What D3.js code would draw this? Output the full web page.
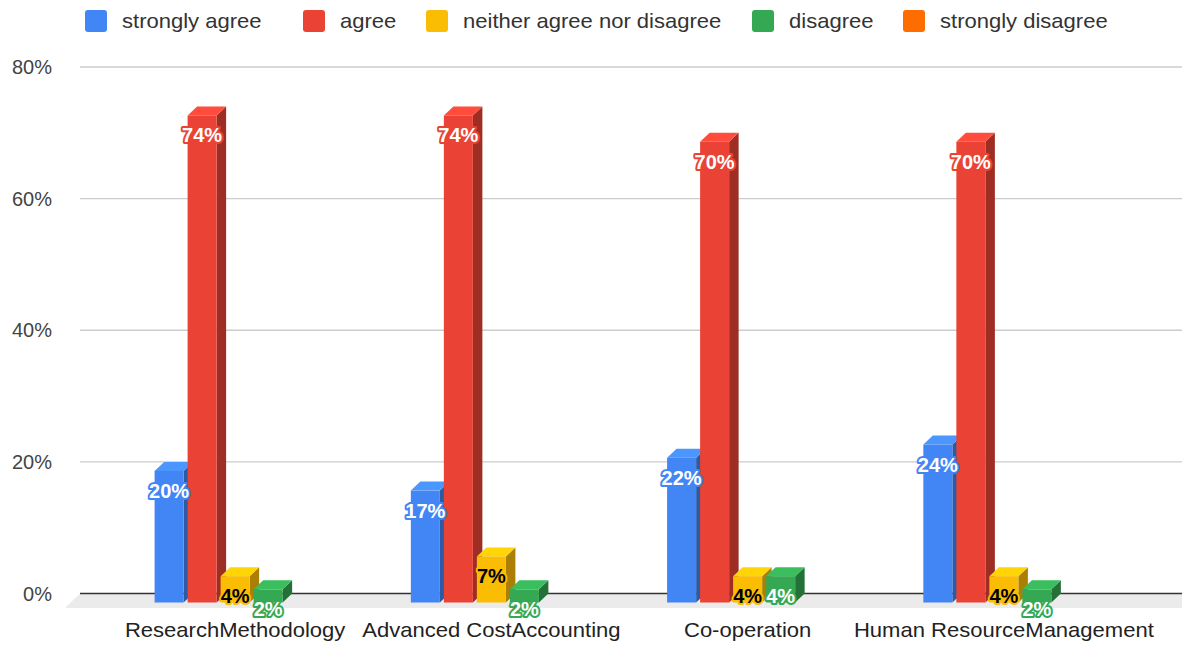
<!DOCTYPE html>
<html><head><meta charset="utf-8">
<script src="https://cdn.jsdelivr.net/npm/d3@7"></script>
<style>body{margin:0;background:#fff}svg{display:block;font-family:Arial,"Liberation Sans",sans-serif}</style>
</head><body>
<svg id="c" width="1182" height="647"></svg>
<script>
const categories = ["ResearchMethodology","Advanced CostAccounting","Co-operation","Human ResourceManagement"];
const seriesNames = ["strongly agree","agree","neither agree nor disagree","disagree","strongly disagree"];
const seriesColors = ["#4285F4","#EA4335","#FBBC04","#34A853","#FF6D01"];
const stronglyAgree = [20,17,22,24];
const agree = [74,74,70,70];
const neither = [4,7,4,4];
const disagree = [2,2,4,2];
const stronglyDisagree = [0,0,0,0];
const yTicks = [0,20,40,60,80];

const values = [stronglyAgree, agree, neither, disagree, stronglyDisagree];
const svg = d3.select("#c");
const DX = 9.5, DY = 9;
const SX = 1.075;
const y = d3.scaleLinear().domain([0,80]).range([593.5,67]);
const x0 = d3.scaleBand().domain(categories).range([107,1132]).paddingInner(0.356).paddingOuter(0.178);
const x1 = d3.scaleBand().domain(seriesNames).range([0,x0.bandwidth()]).paddingInner(0.121).paddingOuter(0.06);

// gridlines
svg.append("g").selectAll("line").data(yTicks.filter(d=>d>0)).join("line")
  .attr("x1",80).attr("x2",1182).attr("y1",d=>y(d)).attr("y2",d=>y(d))
  .attr("stroke","#cccccc").attr("stroke-width",1.3);
// floor
svg.append("path").attr("d",`M80,${y(0)}L1182,${y(0)}L1182,${y(0)+14.5}L65,${y(0)+14.5}Z`).attr("fill","#ebebeb");
svg.append("line").attr("x1",80).attr("x2",1182).attr("y1",y(0)).attr("y2",y(0)).attr("stroke","#333").attr("stroke-width",1.3);
// y labels
svg.append("g").selectAll("text").data(yTicks).join("text")
  .attr("x",52).attr("y",d=>y(d)).attr("dy","0.35em").attr("text-anchor","end")
  .attr("font-size",20).attr("fill","#444").text(d=>d+"%");
// category labels
svg.append("g").selectAll("text").data(categories).join("text")
  .attr("transform",d=>`translate(${x0(d)+x0.bandwidth()/2},630) scale(${SX},1)`)
  .attr("dy","0.35em").attr("text-anchor","middle")
  .attr("font-size",20.5).attr("fill","#222").text(d=>d);

// bars
const bars = [];
categories.forEach((c,ci)=>{
  seriesNames.forEach((s,si)=>{
    bars.push({c, s, si, v: values[si][ci]});
  });
});
const gb = svg.append("g");
bars.forEach(b=>{
  if (b.v <= 0) return;
  const col = d3.color(seriesColors[b.si]);
  const xa = x0(b.c) + x1(b.s), xb = xa + x1.bandwidth();
  const yt = y(b.v) + DY, yb = y(0) + DY;
  const g = gb.append("g");
  g.append("path").attr("d",`M${xb},${yt}L${xb+DX},${yt-DY}L${xb+DX},${yb-DY}L${xb},${yb}Z`).attr("fill",col.darker(1.1));
  g.append("path").attr("d",`M${xa},${yt}L${xb},${yt}L${xb+DX},${yt-DY}L${xa+DX},${yt-DY}Z`).attr("fill",col.brighter(0.35));
  g.append("rect").attr("x",xa).attr("y",yt).attr("width",xb-xa).attr("height",yb-yt).attr("fill",col);
});
// labels
const gl = svg.append("g");
bars.forEach(b=>{
  if (b.v <= 0) return;
  const xa = x0(b.c) + x1(b.s);
  gl.append("text").attr("x",xa + x1.bandwidth()/2).attr("y",y(b.v)+DY+20).attr("dy","0.35em")
    .attr("text-anchor","middle").attr("font-size",20).attr("font-weight","bold")
    .attr("fill", b.si===2 ? "#000" : "#fff")
    .attr("stroke",seriesColors[b.si]).attr("stroke-width",4).attr("stroke-linejoin","round")
    .attr("paint-order","stroke").text(b.v+"%");
});

// legend
const legX = [85,303,426,752,903];
const lg = svg.append("g");
seriesNames.forEach((s,i)=>{
  lg.append("rect").attr("x",legX[i]).attr("y",10).attr("width",22).attr("height",22).attr("rx",3).attr("fill",seriesColors[i]);
  lg.append("text").attr("transform",`translate(${legX[i]+37},21) scale(${SX},1)`).attr("dy","0.35em")
    .attr("font-size",20.5).attr("fill","#333").text(s);
});
</script>
</body></html>
